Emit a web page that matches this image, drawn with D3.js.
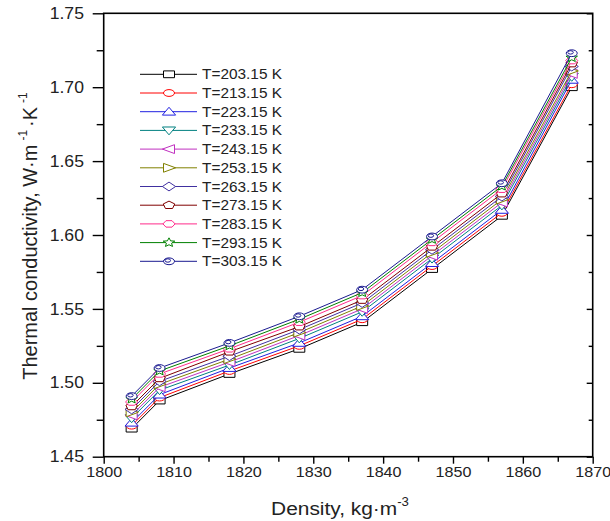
<!DOCTYPE html>
<html lang='en'>
<head>
  <meta charset='UTF-8'/>
  <title>Thermal conductivity vs density</title>
  <script src='https://d3js.org/d3.v7.min.js'></script>
  <style>
    body { margin: 0; background: #fff; }
    svg text { font-family: 'Liberation Sans', Arial, sans-serif; fill: #222; }
  </style>
</head>
<body>
  <svg id='chart' width='610' height='521'></svg>
<script>
// density, kg/m3
const density = [1804, 1808, 1818, 1828, 1837, 1847, 1857, 1867];

const temps = ['203.15', '213.15', '223.15', '233.15', '243.15', '253.15',
               '263.15', '273.15', '283.15', '293.15', '303.15'];

// thermal conductivity, W/(m K), one array per temperature
const k203 = [1.469, 1.488, 1.506, 1.523, 1.541, 1.577, 1.613, 1.700];
const k213 = [1.471, 1.490, 1.508, 1.525, 1.543, 1.579, 1.615, 1.702];
const k223 = [1.473, 1.492, 1.510, 1.527, 1.545, 1.581, 1.617, 1.705];
const k233 = [1.476, 1.495, 1.512, 1.530, 1.548, 1.584, 1.620, 1.707];
const k243 = [1.478, 1.497, 1.514, 1.532, 1.550, 1.586, 1.622, 1.709];
const k253 = [1.480, 1.499, 1.516, 1.534, 1.552, 1.588, 1.624, 1.711];
const k263 = [1.482, 1.501, 1.518, 1.536, 1.554, 1.590, 1.626, 1.714];
const k273 = [1.484, 1.503, 1.521, 1.538, 1.556, 1.592, 1.628, 1.716];
const k283 = [1.487, 1.506, 1.523, 1.541, 1.559, 1.595, 1.631, 1.718];
const k293 = [1.489, 1.508, 1.525, 1.543, 1.561, 1.597, 1.633, 1.720];
const k303 = [1.491, 1.510, 1.527, 1.545, 1.563, 1.599, 1.635, 1.723];

const xTicks = [1800, 1810, 1820, 1830, 1840, 1850, 1860, 1870];
const yTicks = [1.45, 1.50, 1.55, 1.60, 1.65, 1.70, 1.75];

const allK = [k203, k213, k223, k233, k243, k253, k263, k273, k283, k293, k303];
const colors = ['#000000', '#ff0000', '#2020e0', '#008080', '#c030c0', '#808000',
                '#4030a0', '#800000', '#ff2b8a', '#008000', '#1a1a90'];
const shapes = ['square', 'circle', 'triUp', 'triDown', 'triLeft', 'triRight',
                'diamond', 'pentagon', 'hexagon', 'star', 'ball'];

const svg = d3.select('#chart');
const pLeft = 103.7, pRight = 592.7, pTop = 13.3, pBottom = 456.7;
const sx = 1.1; // text in the reference is a bit wide

const x = d3.scaleLinear().domain([1800, 1870]).range([pLeft, pRight]);
const y = d3.scaleLinear().domain([1.45, 1.75]).range([pBottom, pTop]);

// symbol paths, slightly wider than tall like the reference
function poly(n, rx, ry, start, inner) {
  let pts = [];
  let m = inner ? n * 2 : n;
  for (let i = 0; i < m; i++) {
    let a = start + i * 2 * Math.PI / m;
    let f = inner && i % 2 ? inner : 1;
    pts.push([Math.cos(a) * rx * f, Math.sin(a) * ry * f]);
  }
  return 'M' + pts.map(p => p[0].toFixed(2) + ',' + p[1].toFixed(2)).join('L') + 'Z';
}
function ellipse(cx, cy, rx, ry) {
  return `M${cx - rx},${cy}A${rx},${ry} 0 1 0 ${cx + rx},${cy}A${rx},${ry} 0 1 0 ${cx - rx},${cy}Z`;
}
function symbolPath(shape) {
  const rx = 5.5, ry = 3.4;
  switch (shape) {
    case 'square': return `M${-rx},${-ry}H${rx}V${ry}H${-rx}Z`;
    case 'circle': return ellipse(0, 0, rx, ry);
    case 'triUp': return `M0,${-ry * 1.3}L${rx * 1.2},${ry}L${-rx * 1.2},${ry}Z`;
    case 'triDown': return `M0,${ry * 1.3}L${rx * 1.2},${-ry}L${-rx * 1.2},${-ry}Z`;
    case 'triLeft': return `M${-rx * 1.2},0L${rx},${-ry * 1.3}L${rx},${ry * 1.3}Z`;
    case 'triRight': return `M${rx * 1.2},0L${-rx},${-ry * 1.3}L${-rx},${ry * 1.3}Z`;
    case 'diamond': return `M0,${-ry * 1.3}L${rx * 1.2},0L0,${ry * 1.3}L${-rx * 1.2},0Z`;
    case 'pentagon': return poly(5, rx * 1.1, ry * 1.2, -Math.PI / 2);
    case 'hexagon': return poly(6, rx * 1.1, ry * 1.1, 0);
    case 'star': return poly(5, rx * 1.1, ry * 1.4, -Math.PI / 2, 0.45);
    case 'ball': return ellipse(0, 0, rx, ry) + ellipse(-1.2, -0.8, rx * 0.5, ry * 0.5);
  }
}

// frame
svg.append('rect')
  .attr('x', pLeft).attr('y', pTop)
  .attr('width', pRight - pLeft).attr('height', pBottom - pTop)
  .attr('fill', 'none').attr('stroke', '#000').attr('stroke-width', 1.6);

// axes
function styleAxis(g) {
  g.select('.domain').remove();
  g.selectAll('line').attr('stroke', '#000').attr('stroke-width', 1.4);
}
svg.append('g').attr('transform', `translate(0,${pBottom})`)
  .call(d3.axisBottom(x).tickValues(d3.range(1805, 1870, 10)).tickSize(5).tickFormat(''))
  .call(styleAxis);
const xAxis = svg.append('g').attr('transform', `translate(0,${pBottom})`)
  .call(d3.axisBottom(x).tickValues(xTicks).tickSize(7).tickPadding(2).tickFormat(d3.format('d')))
  .call(styleAxis);
xAxis.selectAll('text').attr('font-size', 15.5).attr('fill', '#222')
  .attr('transform', 'scale(1.04,1)');

svg.append('g').attr('transform', `translate(${pLeft},0)`)
  .call(d3.axisLeft(y).tickValues(d3.range(1.475, 1.75, 0.05)).tickSize(7).tickFormat(''))
  .call(styleAxis);
const yAxis = svg.append('g').attr('transform', `translate(${pLeft},0)`)
  .call(d3.axisLeft(y).tickValues(yTicks).tickSize(11).tickPadding(7).tickFormat(d3.format('.2f')))
  .call(styleAxis);
yAxis.selectAll('text').attr('font-size', 16).attr('fill', '#222')
  .attr('transform', `scale(${sx},1)`);

// inner ticks on the right
svg.append('g').attr('transform', `translate(${pRight},0)`)
  .call(d3.axisRight(y).tickValues(d3.range(1.475, 1.75, 0.05)).tickSize(-4).tickFormat(''))
  .call(styleAxis);
svg.append('g').attr('transform', `translate(${pRight},0)`)
  .call(d3.axisRight(y).tickValues(yTicks).tickSize(-6).tickFormat(''))
  .call(styleAxis);

// series
const line = d3.line().x(d => x(d[0])).y(d => y(d[1]));
allK.forEach((vals, i) => {
  const pts = density.map((d, j) => [d, vals[j]]);
  const g = svg.append('g');
  g.append('path').datum(pts)
    .attr('d', line)
    .attr('fill', 'none').attr('stroke', colors[i]).attr('stroke-width', 1);
  g.selectAll('path.sym').data(pts).join('path')
    .attr('class', 'sym')
    .attr('d', symbolPath(shapes[i]))
    .attr('transform', d => `translate(${x(d[0])},${y(d[1])})`)
    .attr('fill', '#fff').attr('stroke', colors[i]).attr('stroke-width', 1);
});

// legend
const legend = svg.append('g');
temps.forEach((t, i) => {
  const ly = 74.3 + i * 18.7;
  legend.append('line')
    .attr('x1', 140).attr('x2', 197).attr('y1', ly).attr('y2', ly)
    .attr('stroke', colors[i]).attr('stroke-width', 1);
  legend.append('path')
    .attr('d', symbolPath(shapes[i]))
    .attr('transform', `translate(169,${ly})`)
    .attr('fill', '#fff').attr('stroke', colors[i]).attr('stroke-width', 1);
  legend.append('text')
    .attr('transform', `translate(202,${ly + 5}) scale(${sx},1)`)
    .attr('font-size', 14)
    .text(`T=${t} K`);
});

// axis titles
const xt = svg.append('text')
  .attr('transform', `translate(340,515) scale(${sx},1)`)
  .attr('text-anchor', 'middle').attr('font-size', 19);
xt.append('tspan').text('Density, kg\u00b7m');
xt.append('tspan').attr('dy', -9).attr('font-size', 12).text('-3');

const yt = svg.append('text')
  .attr('transform', 'translate(37,236) rotate(-90)')
  .attr('text-anchor', 'middle').attr('font-size', 20);
yt.append('tspan').text('Thermal conductivity, W\u00b7m');
yt.append('tspan').attr('dx', 4).attr('dy', -10).attr('font-size', 12).text('-1');
yt.append('tspan').attr('dx', 3).attr('dy', 10).text('\u00b7K');
yt.append('tspan').attr('dx', 4).attr('dy', -10).attr('font-size', 12).text('-1');
</script>
</body>
</html>
